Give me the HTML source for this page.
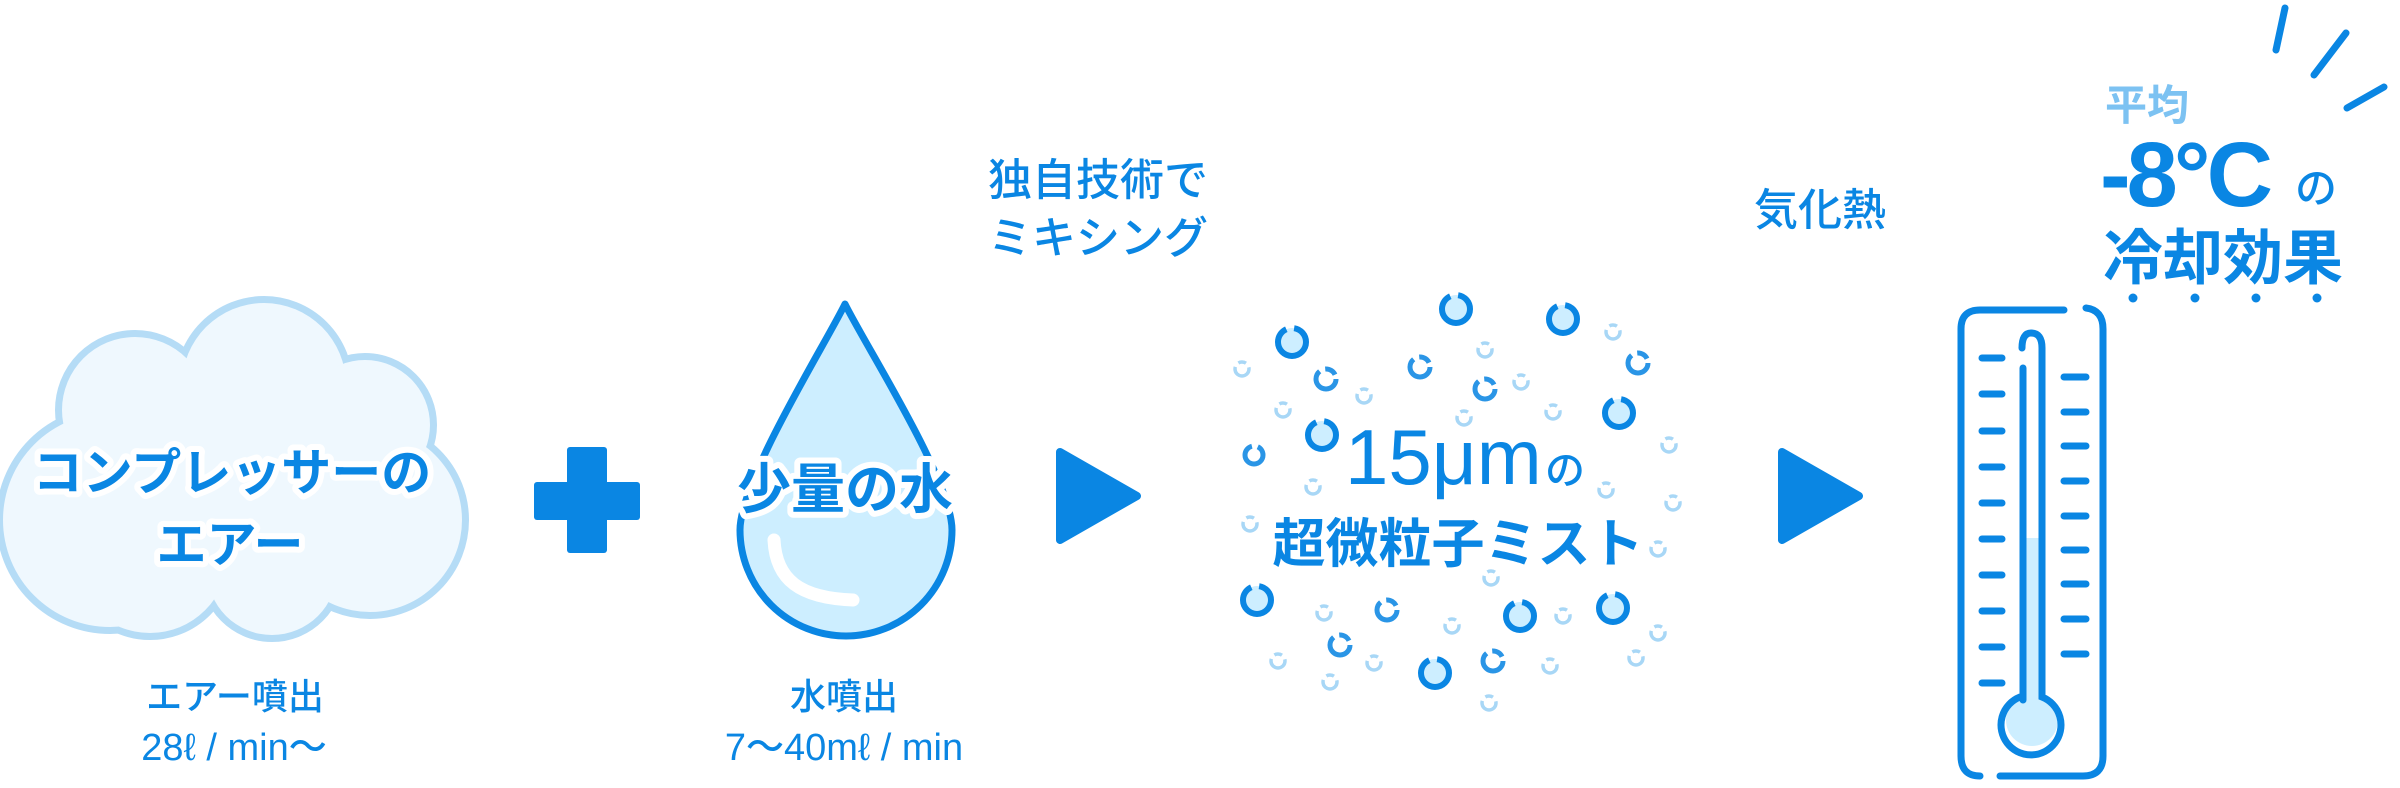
<!DOCTYPE html>
<html><head><meta charset="utf-8"><style>
html,body{margin:0;padding:0;background:#fff;}
svg{display:block;}
text{font-family:"Liberation Sans","Noto Sans CJK JP",sans-serif;}
</style></head><body>
<svg width="2400" height="788" viewBox="0 0 2400 788" xmlns="http://www.w3.org/2000/svg">
<!-- Cloud -->
<g stroke="#b5dcf6" stroke-width="14" fill="#b5dcf6">
<circle cx="264" cy="385" r="82"/><circle cx="135" cy="410" r="73"/><circle cx="365" cy="425" r="65"/>
<circle cx="110" cy="520" r="107"/><circle cx="370" cy="520" r="92"/><circle cx="150" cy="555" r="78"/>
<circle cx="272" cy="570" r="65"/><ellipse cx="240" cy="480" rx="180" ry="120"/>
</g>
<g fill="#eff8fe">
<circle cx="264" cy="385" r="82"/><circle cx="135" cy="410" r="73"/><circle cx="365" cy="425" r="65"/>
<circle cx="110" cy="520" r="107"/><circle cx="370" cy="520" r="92"/><circle cx="150" cy="555" r="78"/>
<circle cx="272" cy="570" r="65"/><ellipse cx="240" cy="480" rx="180" ry="120"/>
</g>
<g font-weight="700" fill="#0a86e3" stroke="#fff" stroke-width="12" paint-order="stroke" stroke-linejoin="round" text-anchor="middle">
<text x="232" y="490" font-size="50">コンプレッサーの</text>
<text x="230" y="562" font-size="50">エアー</text>
</g>
<g fill="#0a86e3" text-anchor="middle" font-weight="500">
<text x="235" y="709" font-size="36">エアー噴出</text>
<text x="234" y="760" font-size="38">28ℓ / min〜</text>
<text x="844" y="709" font-size="36">水噴出</text>
<text x="844" y="760" font-size="38">7〜40mℓ / min</text>
<text x="1098" y="195" font-size="44">独自技術で</text>
<text x="1098" y="253" font-size="44">ミキシング</text>
<text x="1820" y="225" font-size="44">気化熱</text>
</g>
<!-- plus -->
<rect x="567" y="447" width="40" height="106" rx="3" fill="#0a86e3"/>
<rect x="534" y="482" width="106" height="38" rx="3" fill="#0a86e3"/>
<!-- drop -->
<path d="M845,304 C825,345 740,480 740,530 A106,106 0 0 0 952,530 C952,480 865,345 845,304Z" fill="#cdeeff" stroke="#0a86e3" stroke-width="7" stroke-linejoin="round"/>
<path d="M774,540 C776,580 800,598 853,600" fill="none" stroke="#fff" stroke-width="13" stroke-linecap="round"/>
<text x="845" y="508" font-size="54" font-weight="700" fill="#0a86e3" stroke="#fff" stroke-width="12" paint-order="stroke" stroke-linejoin="round" text-anchor="middle">少量の水</text>
<!-- arrows -->
<path d="M1060,452 L1137,496 L1060,540Z" fill="#0a86e3" stroke="#0a86e3" stroke-width="8" stroke-linejoin="round"/>
<path d="M1782,452 L1859,496 L1782,540Z" fill="#0a86e3" stroke="#0a86e3" stroke-width="8" stroke-linejoin="round"/>
<!-- mist -->
<g fill="#cdeeff" stroke="#0a86e3" stroke-width="6" stroke-dasharray="60 8 20 8">
<circle cx="1292" cy="342" r="14"/><circle cx="1456" cy="309" r="14"/><circle cx="1563" cy="319" r="14"/>
<circle cx="1619" cy="413" r="14"/><circle cx="1322" cy="435" r="14"/><circle cx="1257" cy="600" r="14"/>
<circle cx="1520" cy="616" r="14"/><circle cx="1613" cy="608" r="14"/><circle cx="1435" cy="673" r="14"/>
</g>
<g fill="#fff" stroke="#2a95e6" stroke-width="5" stroke-dasharray="40 6 12 6">
<circle cx="1254" cy="455" r="9"/><circle cx="1326" cy="379" r="10"/><circle cx="1420" cy="367" r="10"/>
<circle cx="1485" cy="389" r="10"/><circle cx="1638" cy="363" r="10"/><circle cx="1387" cy="610" r="10"/>
<circle cx="1340" cy="645" r="10"/><circle cx="1493" cy="661" r="10"/>
</g>
<g fill="#fff" stroke="#a8d7f6" stroke-width="3.5" stroke-dasharray="24 5 8 5">
<circle cx="1242" cy="369" r="7"/><circle cx="1283" cy="410" r="7"/><circle cx="1364" cy="396" r="7"/>
<circle cx="1485" cy="350" r="7"/><circle cx="1521" cy="382" r="7"/><circle cx="1553" cy="412" r="7"/>
<circle cx="1613" cy="332" r="7"/><circle cx="1464" cy="418" r="7"/><circle cx="1669" cy="445" r="7"/>
<circle cx="1313" cy="487" r="7"/><circle cx="1606" cy="490" r="7"/><circle cx="1673" cy="503" r="7"/>
<circle cx="1250" cy="524" r="7"/><circle cx="1658" cy="549" r="7"/><circle cx="1491" cy="578" r="7"/>
<circle cx="1324" cy="613" r="7"/><circle cx="1452" cy="626" r="7"/><circle cx="1563" cy="616" r="7"/>
<circle cx="1658" cy="633" r="7"/><circle cx="1278" cy="661" r="7"/><circle cx="1374" cy="663" r="7"/>
<circle cx="1330" cy="682" r="7"/><circle cx="1550" cy="666" r="7"/><circle cx="1636" cy="658" r="7"/>
<circle cx="1489" cy="703" r="7"/>
</g>
<g fill="#0a86e3" stroke="#fff" stroke-width="10" paint-order="stroke" stroke-linejoin="round">
<text x="1345" y="484" font-size="78" font-weight="500">15μm</text>
<text x="1545" y="484" font-size="40" font-weight="500">の</text>
<text x="1458" y="562" font-size="53" font-weight="700" text-anchor="middle">超微粒子ミスト</text>
</g>
<!-- thermometer -->
<path d="M2064,310 H1980 Q1961,310 1961,329 V756 Q1961,776 1980,776 M2000,776 H2083 Q2103,776 2103,756 V329 Q2103,310 2086,308" fill="none" stroke="#0a86e3" stroke-width="7" stroke-linecap="round"/>
<rect x="2022" y="538" width="20" height="160" fill="#cdeeff"/>
<circle cx="2032" cy="720" r="26" fill="#cdeeff"/>
<path d="M2023,700 V368 M2022,348 Q2022,333 2031,333 Q2042,333 2042,348 V697 A30,30 0 1 1 2020,697" fill="none" stroke="#0a86e3" stroke-width="7" stroke-linecap="round"/>
<g stroke="#0a86e3" stroke-width="7" stroke-linecap="round">
<path d="M1982,358H2002M1982,394H2002M1982,431H2002M1982,467H2002M1982,503H2002M1982,539H2002M1982,575H2002M1982,611H2002M1982,647H2002M1982,683H2002"/>
<path d="M2064,377H2086M2064,412H2086M2064,446H2086M2064,481H2086M2064,516H2086M2064,550H2086M2064,584H2086M2064,619H2086M2064,654H2086"/>
</g>
<!-- rays -->
<g stroke="#0a86e3" stroke-width="7" stroke-linecap="round">
<path d="M2285,8L2276,50M2346,33L2314,75M2384,87L2347,108"/>
</g>
<text x="2105" y="120" font-size="42" font-weight="700" fill="#7cc2f2">平均</text>
<g fill="#0a86e3" font-weight="700">
<text x="2100" y="206" font-size="92" letter-spacing="-4">-8°C</text>
<text x="2295" y="203" font-size="42" font-weight="500">の</text>
<text x="2103" y="279" font-size="60">冷却効果</text>
</g>
<g fill="#0a86e3"><circle cx="2133" cy="298" r="4.5"/><circle cx="2195" cy="298" r="4.5"/><circle cx="2256" cy="298" r="4.5"/><circle cx="2317" cy="298" r="4.5"/></g>
</svg>
</body></html>
